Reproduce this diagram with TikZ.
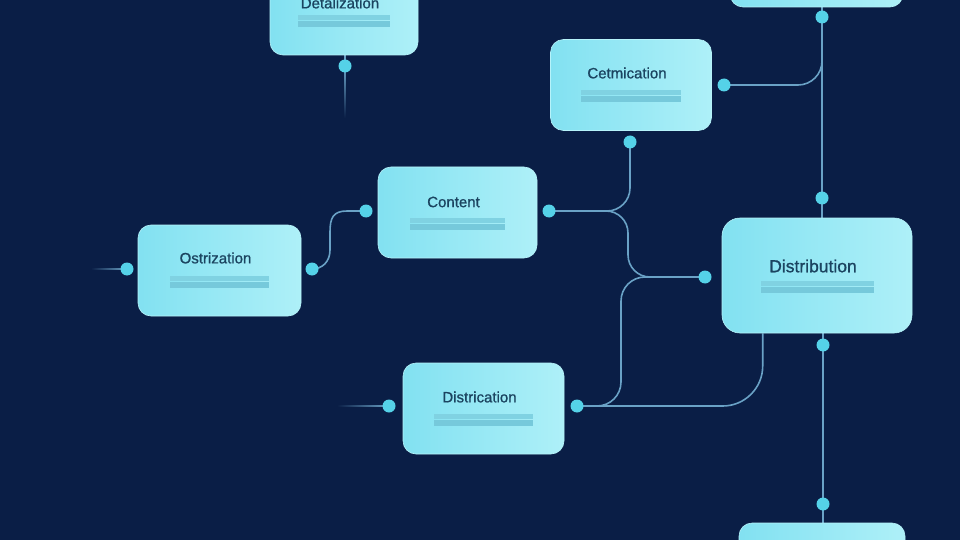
\documentclass[tikz,border=0pt]{standalone}
\usepackage{fontspec}
\setmainfont{Liberation Sans}
\usetikzlibrary{calc}
\definecolor{bgc}{HTML}{0A1E46}
\definecolor{boxL}{HTML}{82E1F1}
\definecolor{boxR}{HTML}{AEF0F8}
\definecolor{boxE}{HTML}{B6F3FA}
\definecolor{txtc}{HTML}{1B4460}
\definecolor{barA}{HTML}{80D2E2}
\definecolor{barB}{HTML}{76C9DB}
\definecolor{dotc}{HTML}{55D2E8}
\definecolor{linec}{HTML}{6AA2C6}
\pgfdeclarelayer{bgl}
\pgfdeclarelayer{back}
\pgfsetlayers{bgl,back,main}
\newfontfamily\titlefont[FakeBold=0.9]{Liberation Sans}
\tikzset{
 card/.style={rounded corners=13pt, left color=boxL, right color=boxR, draw=boxE, line width=0.6pt, inner sep=0pt},
 ttl/.style={text=txtc, font=\titlefont\fontsize{15}{18}\selectfont, inner sep=0pt},
 port/.style={circle, fill=dotc, minimum size=13pt, inner sep=0pt},
 wire/.style={draw=linec, line width=1.6pt},
}
\newcommand{\cardinfo}[5]{%
 \node[ttl,#5] (#1-t) at ($(#1.center)+(-4,#4)$) {#2};
 \fill[barA] ($(#1.center)+(-#3,5)$) rectangle ($(#1.center)+(#3,10.5)$);
 \fill[barB] ($(#1.center)+(-#3,11.5)$) rectangle ($(#1.center)+(#3,17)$);
}
\begin{document}
\begin{tikzpicture}[x=1pt,y=-1pt]
\useasboundingbox (0,0) rectangle (960,540);
\clip (0,0) rectangle (960,540);
\begin{pgfonlayer}{bgl}
\fill[bgc] (0,0) rectangle (960,540);
\end{pgfonlayer}

% cards
\node[card, minimum width=148pt, minimum height=90pt] (det) at (344,10) {};
\node[card, minimum width=161pt, minimum height=91pt] (cet) at (631,85) {};
\node[card, minimum width=173pt, minimum height=90pt] (trbox) at (816.5,-38) {};
\node[card, minimum width=159pt, minimum height=91pt] (con) at (457.5,212.5) {};
\node[card, minimum width=163pt, minimum height=91pt] (ost) at (219.5,270.5) {};
\node[card, minimum width=190pt, minimum height=115pt, rounded corners=18pt] (dist) at (817,275.5) {};
\node[card, minimum width=161pt, minimum height=91pt] (dtr) at (483.5,408.5) {};
\node[card, minimum width=166pt, minimum height=90pt] (brbox) at (822,568) {};

\cardinfo{det}{Detalization}{46}{-7}{}
\cardinfo{cet}{Cetmication}{50}{-12}{}
\cardinfo{con}{Content}{47.5}{-10.5}{}
\cardinfo{ost}{Ostrization}{49.5}{-12.5}{}
\cardinfo{dist}{Distribution}{56.5}{-9.5}{font=\titlefont\fontsize{17.5}{20}\selectfont}
\cardinfo{dtr}{Districation}{49.5}{-11.5}{}

% ports
\node[port] (p1) at (345,66) {};
\node[port] (p2) at (630,142) {};
\node[port] (p3) at (724,85) {};
\node[port] (p4) at (822,17) {};
\node[port] (p5) at (822,198) {};
\node[port] (p6) at (366,211) {};
\node[port] (p7) at (549,211) {};
\node[port] (p8) at (127,269) {};
\node[port] (p9) at (312,269) {};
\node[port] (p10) at (705,277) {};
\node[port] (p11) at (823,345) {};
\node[port] (p12) at (389,406) {};
\node[port] (p13) at (577,406) {};
\node[port] (p14) at (823,504) {};

\coordinate (j1) at (628,211);
\coordinate (j2) at (621,406);
\coordinate (j3) at ($(dist.south west)+(41,0)$);

\begin{pgfonlayer}{back}
% faded stubs
\shade[left color=bgc, right color=linec] ($(p8.center)+(-36,-0.8)$) rectangle ($(p8.center)+(0,0.8)$);
\shade[left color=bgc, right color=linec] ($(p12.center)+(-52,-0.8)$) rectangle ($(p12.center)+(0,0.8)$);
\shade[top color=linec, bottom color=bgc] ($(p1.center)+(-0.8,0)$) rectangle ($(p1.center)+(0.8,52)$);
% wires
\draw[wire] (det.south -| p1) -- (p1.center);
\draw[wire, rounded corners=23pt] (p7.center) -| (p2.center);
\draw[wire, rounded corners=22pt] (p7.center) -- (j1) |- (p10.center);
\draw[wire, rounded corners=24pt] (p13.center) -- (j2) |- (p10.center);
\draw[wire, rounded corners=40pt] (p13.center) -| (j3);
\draw[wire, rounded corners=24pt] (p3.center) -| (p4.center);
\draw[wire] (trbox.south -| p4) -- (p4.center) -- (p5.center) -- (p5 |- dist.north);
\draw[wire] (dist.south -| p11) -- (p11.center) -- (p14.center) -- (p14 |- brbox.north);
\draw[wire] (p6.center) -- (347,211) .. controls (333,211) and (330,218) .. (330,232) -- (330,250) .. controls (330,262) and (322,269) .. (p9.center);
\end{pgfonlayer}
\end{tikzpicture}
\end{document}
